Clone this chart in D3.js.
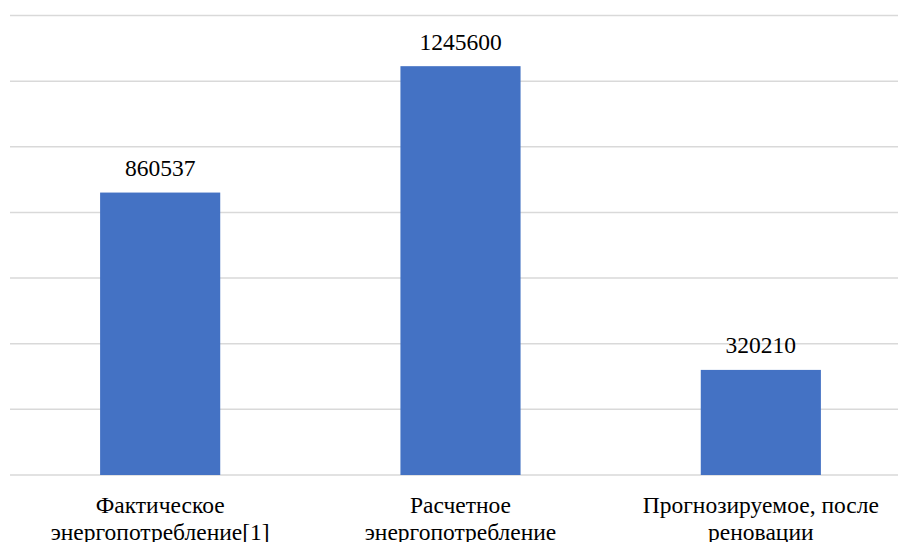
<!DOCTYPE html>
<html>
<head>
<meta charset="utf-8">
<script src="https://cdn.jsdelivr.net/npm/d3@7"></script>
<style>
  body { margin: 0; background: #fff; overflow: hidden; }
</style>
</head>
<body>
<script>
// values
const categories = [
  ['Фактическое', 'энергопотребление[1]'],
  ['Расчетное', 'энергопотребление'],
  ['Прогнозируемое, после', 'реновации']
];
const values = [860537, 1245600, 320210];
const gridTicks = [0, 200000, 400000, 600000, 800000, 1000000, 1200000, 1400000];

const width = 898,
    height = 542,
    fontFamily = "'Liberation Serif'";

const svg = d3.select('body').append('svg')
    .attr('width', width)
    .attr('height', height);

const x = d3.scaleBand()
    .domain(d3.range(values.length))
    .range([10, 911])
    .paddingInner(0.6)
    .paddingOuter(0.3);

const y = d3.scaleLinear()
    .domain([0, 1400000])
    .range([475, 15.5]);

// gridlines
svg.append('g')
    .selectAll('line')
    .data(gridTicks)
    .enter().append('line')
    .attr('x1', 10)
    .attr('x2', width)
    .attr('y1', d => y(d))
    .attr('y2', d => y(d))
    .attr('stroke', '#d9d9d9')
    .attr('stroke-width', 1.5);

// bars
svg.append('g')
    .selectAll('rect')
    .data(values)
    .enter().append('rect')
    .attr('x', (d, i) => x(i))
    .attr('y', d => y(d))
    .attr('width', x.bandwidth())
    .attr('height', d => y(0) - y(d))
    .attr('fill', '#4472c4');

// value labels
svg.append('g')
    .selectAll('text')
    .data(values)
    .enter().append('text')
    .style('font-family', fontFamily)
    .style('font-size', '23.5px')
    .attr('text-anchor', 'middle')
    .attr('fill', '#000')
    .attr('x', (d, i) => x(i) + x.bandwidth() / 2)
    .attr('y', d => y(d) - 16.5)
    .text(d => d);

// category labels
const cat = svg.append('g')
    .selectAll('text')
    .data(categories)
    .enter().append('text')
    .style('font-family', fontFamily)
    .style('font-size', '23.5px')
    .attr('text-anchor', 'middle')
    .attr('fill', '#000')
    .attr('x', (d, i) => x(i) + x.bandwidth() / 2)
    .attr('y', 513);

cat.selectAll('tspan')
    .data(d => d)
    .enter().append('tspan')
    .attr('x', function () { return d3.select(this.parentNode).attr('x'); })
    .attr('dy', (d, i) => i === 0 ? 0 : 27)
    .text(d => d);
</script>
</body>
</html>
